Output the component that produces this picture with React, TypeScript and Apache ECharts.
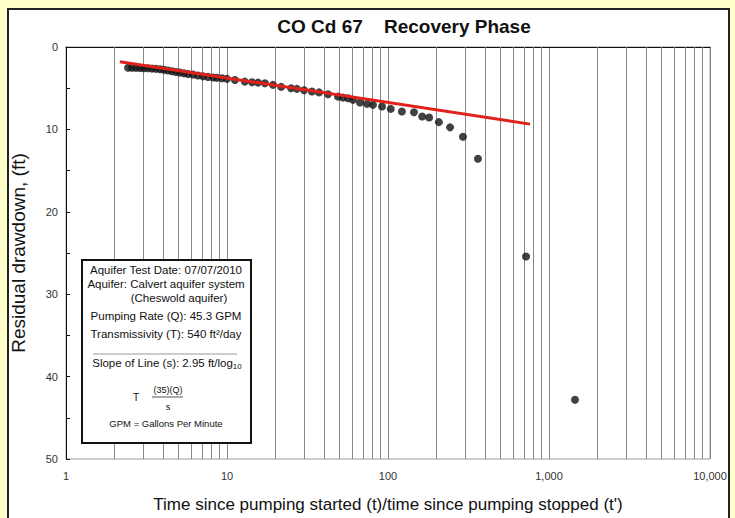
import React, { useEffect, useRef } from "react";
import * as echarts from "echarts";

// t/t' ratio (x) and residual drawdown in ft (y)
const tRatio = [
  2.43, 2.57, 2.72, 2.88, 3.05, 3.23, 3.42, 3.62, 3.84, 4.06, 4.3, 4.55, 4.82,
  5.11, 5.41, 5.73, 6.15, 6.6, 7.09, 7.62, 8.19, 8.67, 9.31, 10.0, 11.2, 12.9,
  14.3, 15.6, 17.2, 19.3, 21.7, 25.0, 27.2, 30.1, 33.7, 37.3, 42.4, 48.9, 52.5,
  56.4, 60.6, 67.0, 74.1, 80.7, 91.8, 104, 122, 145, 163, 180, 207, 243, 292,
  362, 720, 1451,
];
const drawdown = [
  2.52, 2.52, 2.53, 2.54, 2.57, 2.58, 2.62, 2.65, 2.7, 2.76, 2.85, 2.94, 3.03,
  3.11, 3.2, 3.27, 3.35, 3.46, 3.56, 3.63, 3.7, 3.75, 3.8, 3.87, 4.0, 4.2, 4.27,
  4.32, 4.39, 4.6, 4.84, 5.0, 5.08, 5.24, 5.41, 5.51, 5.73, 6.02, 6.14, 6.21,
  6.42, 6.74, 6.9, 7.02, 7.23, 7.51, 7.83, 7.91, 8.44, 8.56, 9.12, 9.75, 10.9,
  13.56, 25.42, 42.82,
];

// straight-line fit (slope 2.95 ft per log cycle)
const fitX = [2.16, 762];
const fitY = [1.78, 9.36];

// axis ticks
const xTickLabels = ["1", "10", "100", "1,000", "10,000"];
const yTicks = [0, 10, 20, 30, 40, 50];
const gridDecades = [1, 10, 100, 1000];
const gridMultipliers = [2, 3, 4, 5, 6, 7, 8, 9];

const FONT = "Liberation Sans, Arial, sans-serif";

export default function App() {
  const ref = useRef<HTMLDivElement>(null);

  useEffect(() => {
    if (!ref.current) return;
    const chart = echarts.init(ref.current, null, { renderer: "svg" });

    const minorLines: { xAxis: number }[] = [];
    gridDecades.forEach((d) =>
      gridMultipliers.forEach((m) => minorLines.push({ xAxis: d * m }))
    );

    const labelMap: Record<string, string> = {};
    [1, 10, 100, 1000, 10000].forEach((v, i) => (labelMap[String(v)] = xTickLabels[i]));

    const boxText = (text: string, x: number, y: number, size = 11.5) => ({
      type: "text",
      z: 51,
      style: {
        text,
        x,
        y,
        fill: "#111",
        font: `${size}px ${FONT}`,
        textAlign: "center",
        textVerticalAlign: "middle",
      },
    });

    chart.setOption({
      animation: false,
      backgroundColor: "#FFFFCC",
      textStyle: { fontFamily: FONT },
      title: {
        text: "CO Cd 67    Recovery Phase",
        left: 399,
        top: 12,
        textAlign: "center",
        textStyle: { fontSize: 19, fontWeight: "bold", color: "#111", fontFamily: FONT },
      },
      grid: {
        left: 66,
        top: 47,
        right: 25,
        bottom: 58,
        show: true,
        borderColor: "#999",
        borderWidth: 1,
        backgroundColor: "transparent",
      },
      xAxis: {
        type: "log",
        logBase: 10,
        min: 1,
        max: 10000,
        name: "Time since pumping started (t)/time since pumping stopped (t')",
        nameLocation: "middle",
        nameGap: 37,
        nameTextStyle: { fontSize: 17, color: "#111", fontFamily: FONT },
        axisLine: { lineStyle: { color: "#111", width: 1 } },
        axisTick: { show: false },
        axisLabel: {
          fontSize: 11,
          color: "#333",
          margin: 11,
          formatter: (v: number) => labelMap[String(Math.round(v))] ?? String(v),
        },
        splitLine: { show: true, lineStyle: { color: "#888", width: 1 } },
      },
      yAxis: {
        type: "value",
        inverse: true,
        min: 0,
        max: 50,
        interval: 5,
        name: "Residual drawdown, (ft)",
        nameLocation: "middle",
        nameGap: 38,
        nameTextStyle: { fontSize: 19, color: "#111", fontFamily: FONT },
        axisLine: { show: true, lineStyle: { color: "#111", width: 1 } },
        axisTick: { show: true, inside: true, length: 4, lineStyle: { color: "#111" } },
        axisLabel: {
          fontSize: 11,
          color: "#333",
          margin: 8,
          formatter: (v: number) => (yTicks.includes(v) ? String(v) : ""),
        },
        splitLine: { show: false },
      },
      series: [
        {
          type: "line",
          data: [],
          silent: true,
          markLine: {
            silent: true,
            symbol: ["none", "none"],
            label: { show: false },
            lineStyle: { type: "solid", color: "#888", width: 1 },
            data: minorLines,
          },
          z: 1,
        },
        {
          type: "scatter",
          data: tRatio.map((t, i) => [t, drawdown[i]]),
          symbol: "circle",
          symbolSize: 8,
          itemStyle: { color: "#111" },
          z: 5,
        },
        {
          type: "line",
          data: fitX.map((t, i) => [t, fitY[i]]),
          symbol: "none",
          lineStyle: { color: "#E0211C", width: 3 },
          z: 6,
        },
      ],
      graphic: [
        {
          type: "rect",
          z: -100,
          silent: true,
          shape: { x: 8, y: 9, width: 721, height: 520 },
          style: { fill: "#fff", stroke: "#222", lineWidth: 2 },
        },
        {
          type: "rect",
          z: 50,
          shape: { x: 82, y: 260, width: 169, height: 183 },
          style: { fill: "#fff", stroke: "#111", lineWidth: 2 },
        },
        boxText("Aquifer Test Date: 07/07/2010", 166, 270),
        boxText("Aquifer: Calvert aquifer system", 166, 284),
        boxText("(Cheswold aquifer)", 179, 297.5),
        boxText("Pumping Rate (Q): 45.3 GPM", 166, 316),
        boxText("Transmissivity (T): 540 ft\u00B2/day", 166, 334),
        {
          type: "line",
          z: 51,
          shape: { x1: 93, y1: 354, x2: 237, y2: 354 },
          style: { stroke: "#999", lineWidth: 1 },
        },
        {
          type: "text",
          z: 51,
          style: {
            text: "Slope of Line (s): 2.95 ft/log{sub|10}",
            x: 167,
            y: 363,
            fill: "#111",
            font: `11.5px ${FONT}`,
            textAlign: "center",
            textVerticalAlign: "middle",
            rich: {
              sub: { fontSize: 8, fontFamily: FONT, fill: "#111", padding: [7, 0, 0, 0] },
            },
          },
        },
        boxText("T", 136, 397, 10),
        boxText("(35)(Q)", 168, 390, 9),
        {
          type: "line",
          z: 51,
          shape: { x1: 152, y1: 397, x2: 183, y2: 397 },
          style: { stroke: "#555", lineWidth: 1 },
        },
        boxText("s", 168, 406.5, 9),
        boxText("GPM = Gallons Per Minute", 166, 423, 9.5),
      ],
    });

    return () => chart.dispose();
  }, []);

  return (
    <div
      ref={ref}
      style={{ position: "fixed", left: 0, top: 0, width: 735, height: 518 }}
    />
  );
}
